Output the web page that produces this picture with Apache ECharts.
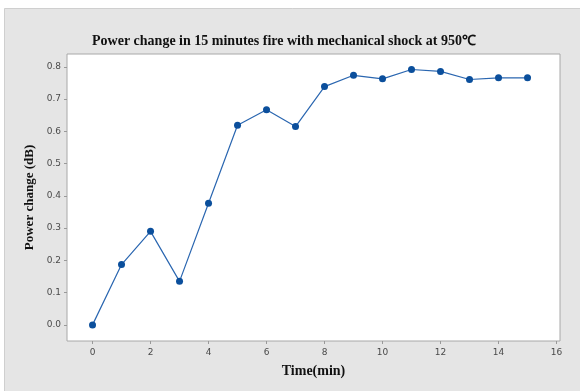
<!DOCTYPE html>
<html>
<head>
<meta charset="utf-8">
<script src="https://cdn.jsdelivr.net/npm/echarts@6/dist/echarts.min.js"></script>
<style>
  html, body { margin: 0; padding: 0; background: #fff; }
  #chart { width: 580px; height: 391px; }
</style>
</head>
<body>
<div id="chart"></div>
<script>
// time in minutes and measured power change (dB)
const times = [0, 1, 2, 3, 4, 5, 6, 7, 8, 9, 10, 11, 12, 13, 14, 15];
const powerChange = [0.0, 0.187, 0.29, 0.135, 0.377, 0.619, 0.667, 0.615, 0.739, 0.774, 0.763, 0.792, 0.786, 0.761, 0.766, 0.766];
const xTicks = [0, 2, 4, 6, 8, 10, 12, 14, 16];
const yTicks = [0.0, 0.1, 0.2, 0.3, 0.4, 0.5, 0.6, 0.7, 0.8];

const myChart = echarts.init(document.getElementById('chart'));

const tickFont = { fontFamily: 'DejaVu Sans', fontSize: 9, color: '#4a4a4a' };

const options = {
  backgroundColor: '#fff',
  animation: false,
  graphic: [
    {
      type: 'rect',
      z: -10,
      shape: { x: 4.5, y: 8.5, width: 580, height: 390 },
      style: { fill: '#e5e5e5', stroke: '#cfcfcf', lineWidth: 1 }
    }
  ],
  title: {
    text: 'Power change in 15 minutes fire with mechanical shock at 950\u2103',
    left: 279,
    textAlign: 'center',
    top: 29,
    textStyle: { fontFamily: 'Liberation Serif', fontWeight: 'bold', fontSize: 14, color: '#111' }
  },
  grid: {
    left: 67, top: 54, right: 20, bottom: 50,
    show: true,
    backgroundColor: '#fff',
    borderColor: '#a8a8a8',
    borderWidth: 1
  },
  xAxis: {
    type: 'value',
    min: -0.88,
    max: 16.12,
    name: 'Time(min)',
    nameLocation: 'middle',
    nameGap: 23,
    nameTextStyle: { fontFamily: 'Liberation Serif', fontWeight: 'bold', fontSize: 14, color: '#111' },
    axisLine: { show: false, onZero: false },
    splitLine: { show: false },
    axisTick: { show: true, length: 3, lineStyle: { color: '#999' }, customValues: xTicks },
    axisLabel: Object.assign({ margin: 7, customValues: xTicks, formatter: v => String(v) }, tickFont)
  },
  yAxis: {
    type: 'value',
    min: -0.05,
    max: 0.84,
    name: 'Power change (dB)',
    nameLocation: 'middle',
    nameGap: 29,
    nameTextStyle: { fontFamily: 'Liberation Serif', fontWeight: 'bold', fontSize: 13, color: '#111' },
    axisLine: { show: false, onZero: false },
    splitLine: { show: false },
    axisTick: { show: true, length: 3, lineStyle: { color: '#999' }, customValues: yTicks },
    axisLabel: Object.assign({ margin: 6, customValues: yTicks, formatter: v => v.toFixed(1) }, tickFont)
  },
  series: [
    {
      type: 'line',
      data: times.map((t, i) => [t, powerChange[i]]),
      symbol: 'circle',
      symbolSize: 7,
      lineStyle: { color: '#2a66b0', width: 1.2 },
      itemStyle: { color: '#0b4f9c' }
    }
  ]
};

myChart.setOption(options);
</script>
</body>
</html>
